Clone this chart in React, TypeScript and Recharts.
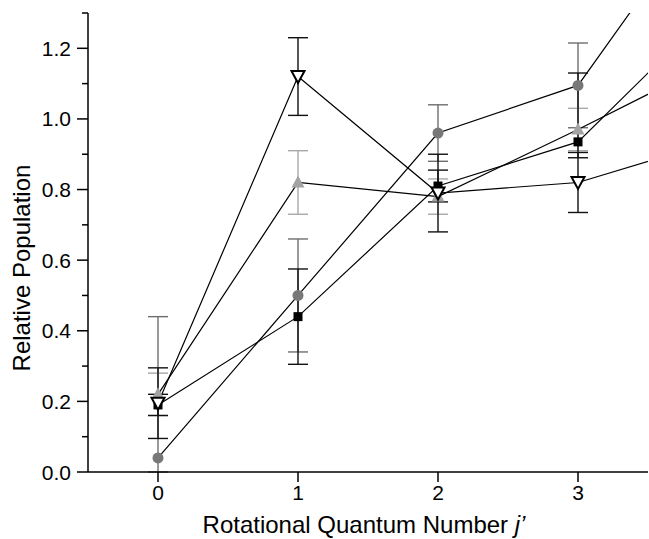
import React from "react";
import { LineChart, Line, XAxis, YAxis, ErrorBar } from "recharts";

// rotational level j' (j'=4 lies past the right edge, only the line segment shows)
const jLevels = [0, 1, 2, 3, 4];

const openTriangle = [0.195, 1.12, 0.79, 0.82, 0.94];
const openTriangleErr = [[0.1, 0.1], [0.11, 0.11], [0.11, 0.11], [0.085, 0.085], [0, 0]];

const grayTriangle = [0.22, 0.82, 0.78, 0.97, 1.17];
const grayTriangleErr = [[0.06, 0.06], [0.09, 0.09], [0.05, 0.05], [0.06, 0.06], [0, 0]];

const grayCircle = [0.04, 0.5, 0.96, 1.095, 1.65];
const grayCircleErr = [[0.04, 0.4], [0.16, 0.16], [0.08, 0.08], [0.12, 0.12], [0, 0]];

const blackSquare = [0.19, 0.44, 0.81, 0.935, 1.325];
const blackSquareErr = [[0.03, 0.03], [0.135, 0.135], [0.045, 0.045], [0.045, 0.195], [0, 0]];

const xTicks = [0, 1, 2, 3];
const yTicks = [0, 0.1, 0.2, 0.3, 0.4, 0.5, 0.6, 0.7, 0.8, 0.9, 1.0, 1.1, 1.2, 1.3];

const data = jLevels.map((j, i) => ({
  j,
  openTri: openTriangle[i],
  openTriErr: openTriangleErr[i],
  grayTri: grayTriangle[i],
  grayTriErr: grayTriangleErr[i],
  circle: grayCircle[i],
  circleErr: grayCircleErr[i],
  square: blackSquare[i],
  squareErr: blackSquareErr[i],
}));

const FONT = "'Liberation Sans', Arial, Helvetica, sans-serif";

const TriDownDot = (p: any) => {
  const { cx, cy, index } = p;
  if (cx == null || cy == null) return <g key={index} />;
  return (
    <path
      key={index}
      d={`M${cx - 6.5},${cy - 5.5} L${cx + 6.5},${cy - 5.5} L${cx},${cy + 6.5} Z`}
      fill="#fff"
      stroke="#000"
      strokeWidth={2}
    />
  );
};

const TriUpDot = (p: any) => {
  const { cx, cy, index } = p;
  if (cx == null || cy == null) return <g key={index} />;
  return (
    <path
      key={index}
      d={`M${cx - 6.5},${cy + 5} L${cx + 6.5},${cy + 5} L${cx},${cy - 7} Z`}
      fill="#a3a3a3"
    />
  );
};

const CircleDot = (p: any) => {
  const { cx, cy, index } = p;
  if (cx == null || cy == null) return <g key={index} />;
  return <circle key={index} cx={cx} cy={cy} r={5.5} fill="#787878" />;
};

const SquareDot = (p: any) => {
  const { cx, cy, index } = p;
  if (cx == null || cy == null) return <g key={index} />;
  return <rect key={index} x={cx - 4.5} y={cy - 4.5} width={9} height={9} fill="#000" />;
};

const YTick = (p: any) => {
  const { x, y, payload } = p;
  const v = payload.value;
  const major = Math.round(v * 10) % 2 === 0;
  return (
    <g>
      <line x1={x - (major ? 11 : 6)} x2={x} y1={y} y2={y} stroke="#000" strokeWidth={1.5} />
      {major && (
        <text
          x={x - 17}
          y={y}
          dy="0.36em"
          textAnchor="end"
          fontFamily={FONT}
          fontSize={21}
          fill="#000"
        >
          {v.toFixed(1)}
        </text>
      )}
    </g>
  );
};

const XTick = (p: any) => {
  const { x, y, payload } = p;
  return (
    <g>
      <line x1={x} x2={x} y1={y} y2={y + 10} stroke="#000" strokeWidth={1.5} />
      <text
        x={x}
        y={y + 20}
        dy="0.36em"
        textAnchor="middle"
        fontFamily={FONT}
        fontSize={21}
        fill="#000"
      >
        {payload.value}
      </text>
    </g>
  );
};

const XTitle = (p: any) => {
  const { viewBox } = p;
  const cx = viewBox.x + viewBox.width / 2;
  return (
    <text x={cx - 4} y={524} dy="0.36em" textAnchor="middle" fontFamily={FONT} fontSize={24} fill="#000">
      Rotational Quantum Number <tspan fontStyle="italic">j’</tspan>
    </text>
  );
};

const YTitle = () => (
  <text
    x={21}
    y={268}
    dy="0.36em"
    textAnchor="middle"
    transform="rotate(-90 21 268)"
    fontFamily={FONT}
    fontSize={24}
    fill="#000"
  >
    Relative Population
  </text>
);

export default function App() {
  return (
    <div style={{ position: "absolute", left: 0, top: 0, background: "#fff" }}>
      <LineChart
        width={649}
        height={539}
        data={data}
        margin={{ top: 13, right: 1, bottom: 0, left: 0 }}
      >
        <XAxis
          dataKey="j"
          type="number"
          domain={[-0.5, 3.5]}
          ticks={xTicks}
          allowDataOverflow
          height={67}
          tickSize={0}
          tickMargin={0}
          tickLine={false}
          tick={<XTick />}
          axisLine={{ stroke: "#000", strokeWidth: 1.5 }}
          label={<XTitle />}
        />
        <YAxis
          type="number"
          domain={[0, 1.3]}
          ticks={yTicks}
          allowDataOverflow
          width={88}
          tickSize={0}
          tickMargin={0}
          tickLine={false}
          tick={<YTick />}
          interval={0}
          axisLine={{ stroke: "#000", strokeWidth: 1.5 }}
          label={<YTitle />}
        />
        <Line
          dataKey="circle"
          stroke="#000"
          strokeWidth={1.2}
          dot={CircleDot}
          activeDot={false}
          isAnimationActive={false}
        >
          <ErrorBar dataKey="circleErr" width={10} stroke="#6e6e6e" strokeWidth={1.4} direction="y" />
        </Line>
        <Line
          dataKey="grayTri"
          stroke="#000"
          strokeWidth={1.2}
          dot={TriUpDot}
          activeDot={false}
          isAnimationActive={false}
        >
          <ErrorBar dataKey="grayTriErr" width={10} stroke="#a8a8a8" strokeWidth={1.4} direction="y" />
        </Line>
        <Line
          dataKey="square"
          stroke="#000"
          strokeWidth={1.2}
          dot={SquareDot}
          activeDot={false}
          isAnimationActive={false}
        >
          <ErrorBar dataKey="squareErr" width={10} stroke="#111" strokeWidth={1.4} direction="y" />
        </Line>
        <Line
          dataKey="openTri"
          stroke="#000"
          strokeWidth={1.2}
          dot={TriDownDot}
          activeDot={false}
          isAnimationActive={false}
        >
          <ErrorBar dataKey="openTriErr" width={10} stroke="#111" strokeWidth={1.4} direction="y" />
        </Line>
      </LineChart>
    </div>
  );
}
